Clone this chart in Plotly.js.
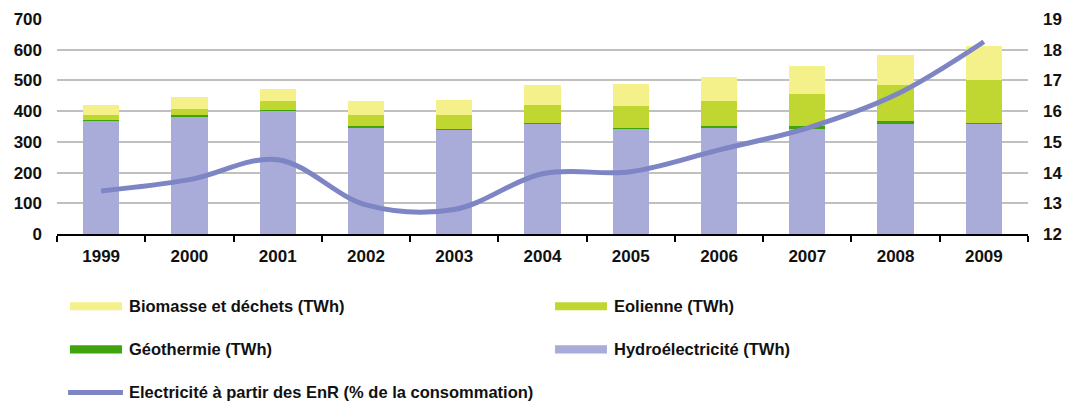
<!DOCTYPE html>
<html>
<head>
<meta charset="utf-8">
<script src="https://cdn.plot.ly/plotly-3.0.1.min.js"></script>
<style>html,body{margin:0;padding:0;background:#fff;}#chart{width:1069px;height:407px;}</style>
</head>
<body>
<div id="chart"></div>
<script>
const years = ['1999','2000','2001','2002','2003','2004','2005','2006','2007','2008','2009'];
const hydro = [368, 382, 401, 346, 340, 359, 342, 346, 342, 358, 359];
const geo = [3, 5, 4, 6, 3, 3, 3, 6, 10, 10, 3];
const wind = [17, 21, 29, 36, 45, 58, 72, 81, 103, 117, 140];
const biomass = [32, 38, 38, 45, 48, 65, 71, 79, 92, 98, 110];
const sharePct = [13.4, 13.77, 14.42, 12.95, 12.8, 13.96, 14.03, 14.74, 15.45, 16.53, 18.26];

const names = {
  bio: 'Biomasse et déchets (TWh)',
  wind: 'Eolienne (TWh)',
  geo: 'Géothermie (TWh)',
  hydro: 'Hydroélectricité (TWh)',
  share: 'Electricité à partir des EnR (% de la consommation)'
};
const colors = {hydro:'#a9acd8', geo:'#3fa40c', wind:'#bfd730', bio:'#f4f08a', share:'#7d85c4'};

const barW = 0.41;
const traces = [
  {type:'bar', x:years, y:hydro, name:names.hydro, marker:{color:colors.hydro}, width:barW},
  {type:'bar', x:years, y:geo, name:names.geo, marker:{color:colors.geo}, width:barW},
  {type:'bar', x:years, y:wind, name:names.wind, marker:{color:colors.wind}, width:barW},
  {type:'bar', x:years, y:biomass, name:names.bio, marker:{color:colors.bio}, width:barW},
  {type:'scatter', mode:'lines', x:years, y:sharePct, yaxis:'y2', name:names.share,
   line:{color:colors.share, width:5, shape:'spline', smoothing:1}}
];

const F = {family:'"Liberation Sans", Arial, sans-serif', size:17, color:'#111', weight:'bold'};
const FL = {family:'"Liberation Sans", Arial, sans-serif', size:16.5, color:'#111', weight:'bold'};
const rows = [-0.336, -0.537, -0.737];
const legendItems = [
  {t:names.bio, c:colors.bio, col:0, row:0, kind:'rect'},
  {t:names.wind, c:colors.wind, col:1, row:0, kind:'rect'},
  {t:names.geo, c:colors.geo, col:0, row:1, kind:'rect'},
  {t:names.hydro, c:colors.hydro, col:1, row:1, kind:'rect'},
  {t:names.share, c:colors.share, col:0, row:2, kind:'line'}
];
const colX = [[0.0134, 0.0669, 0.0721], [0.5129, 0.5664, 0.5716]];
const shapes = [];
const annotations = [];
legendItems.forEach(it => {
  const cx = colX[it.col];
  const yy = rows[it.row];
  if (it.kind === 'rect') {
    shapes.push({type:'rect', xref:'paper', yref:'paper', x0:cx[0], x1:cx[1],
      y0:yy - 0.019, y1:yy + 0.019, fillcolor:it.c, line:{width:0}});
  } else {
    shapes.push({type:'line', xref:'paper', yref:'paper', x0:cx[0]-0.002, x1:cx[1]+0.001,
      y0:yy, y1:yy, line:{color:it.c, width:5}});
  }
  annotations.push({xref:'paper', yref:'paper', x:cx[2], y:yy, xanchor:'left', yanchor:'middle',
    text:it.t, showarrow:false, font:FL});
});

const layout = {
  width:1069, height:407,
  margin:{l:57, r:41, t:19, b:173},
  paper_bgcolor:'#fff', plot_bgcolor:'#fff',
  barmode:'stack',
  showlegend:false,
  font:F,
  xaxis:{type:'category', showline:true, linecolor:'#000', linewidth:2,
    ticks:'outside', tickson:'boundaries', ticklen:6, tickwidth:2, tickcolor:'#000',
    showgrid:false, tickfont:F, ticklabelstandoff:6, fixedrange:true},
  yaxis:{range:[0,700], dtick:100, showgrid:true, gridcolor:'#c0c0c0', gridwidth:2,
    zeroline:false, showline:false, ticks:'', tickfont:F, ticklabelstandoff:14},
  yaxis2:{range:[12,19], dtick:1, overlaying:'y', side:'right', showgrid:false,
    zeroline:false, showline:false, ticks:'', tickfont:F, ticklabelstandoff:14},
  shapes:shapes,
  annotations:annotations
};
Plotly.newPlot('chart', traces, layout, {displayModeBar:false, staticPlot:true});
</script>
</body>
</html>
